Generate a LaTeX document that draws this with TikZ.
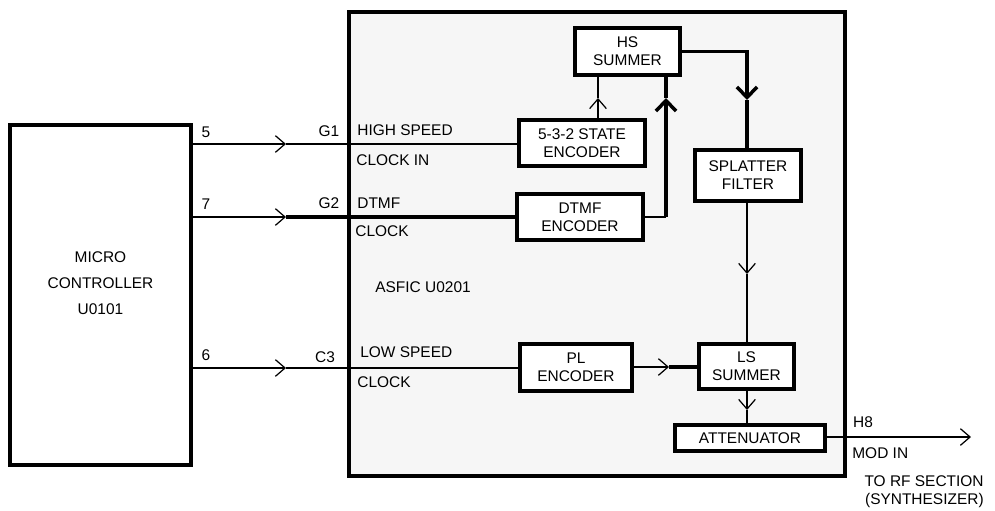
\documentclass[tikz,border=0pt]{standalone}
\usepackage{fontspec}
\setmainfont{Liberation Sans}
\usetikzlibrary{arrows.meta}
\definecolor{chipgray}{RGB}{246,246,246}
\tikzset{
  blk/.style={draw,line width=2.2pt,fill=white,align=center,inner sep=0pt},
  sig/.style={line width=0.7pt},
  bus/.style={line width=2pt,>={Straight Barb[length=6pt,width=11.5pt]}},
  lbl/.style={inner sep=0pt},
}

\begin{document}
\begin{tikzpicture}[x=0.02cm,y=-0.02cm,>={Straight Barb[length=5.5pt,width=9.5pt]},
                    font=\fontsize{8.8}{10.2}\selectfont]
  \useasboundingbox (0,0) rectangle (995,511);
  % --- micro controller and the ASFIC outline ---
  \node[blk,minimum width=3.62cm,minimum height=6.8cm] (micro) at (100.5,295) {};
  \node[align=center] (microtxt) at (100.5,283) {MICRO\\[4.5pt]CONTROLLER\\[4.5pt]U0101};
  \node[blk,fill=chipgray,minimum width=9.92cm,minimum height=9.28cm] (asfic) at (597,244) {};
  \node[lbl,anchor=west] (asficname) at (375,287) {ASFIC U0201};
  % --- blocks inside the ASFIC ---
  \node[blk,minimum width=2.1cm,minimum height=0.94cm] (hs) at (627.5,51.5) {HS\\SUMMER};
  \node[blk,minimum width=2.52cm,minimum height=0.92cm] (enc532) at (582,143) {5-3-2 STATE\\ENCODER};
  \node[blk,minimum width=2.52cm,minimum height=0.92cm] (dtmf) at (580,217) {DTMF\\ENCODER};
  \node[blk,minimum width=2.12cm,minimum height=1.02cm] (splat) at (748,175.5) {SPLATTER\\FILTER};
  \node[blk,minimum width=2.24cm,minimum height=0.94cm] (pl) at (576,367.5) {PL\\ENCODER};
  \node[blk,minimum width=1.9cm,minimum height=0.9cm] (ls) at (746.5,366.5) {LS\\SUMMER};
  \node[blk,minimum width=3.0cm,minimum height=0.52cm] (att) at (750,438) {ATTENUATOR};
  % --- arrow points ---
  \coordinate (g1) at (286,144);
  \coordinate (g2) at (286,217);
  \coordinate (c3) at (286,368);
  \coordinate (t532) at (598,98);
  \coordinate (tdtmf) at (666,98);
  \coordinate (tsplat) at (747,100);
  \coordinate (tls) at (747,274);
  \coordinate (tpl) at (669,367);
  \coordinate (tatt) at (747,410);
  \coordinate (modin) at (971,437);
  % --- clock lines from the micro controller ---
  \draw[sig,->] (micro.east |- g1) -- (g1);
  \draw[sig] (g1) -- (enc532.west |- g1);
  \draw[sig,->] (micro.east |- g2) -- (g2);
  \draw[bus] (g2) -- (dtmf.west);
  \draw[sig,->] (micro.east |- c3) -- (c3);
  \draw[sig] (c3) -- (pl.west |- c3);
  % --- signal path ---
  \draw[sig,->] (enc532.north -| t532) -- (t532);
  \draw[sig] (t532) -- (hs.south -| t532);
  \draw[sig] (dtmf.east) -- (dtmf.east -| tdtmf);
  \draw[bus,->] (dtmf.east -| tdtmf) -- (tdtmf);
  \draw[bus] (tdtmf) -- (hs.south -| tdtmf);
  \draw[bus,->] (hs.east) -| (tsplat);
  \draw[bus] (tsplat) -- (splat.north -| tsplat);
  \draw[sig,->] (splat.south -| tls) -- (tls);
  \draw[sig] (tls) -- (ls.north -| tls);
  \draw[sig,->] (pl.east |- tpl) -- (tpl);
  \draw[bus] (tpl) -- (ls.west |- tpl);
  \draw[sig,->] (ls.south -| tatt) -- (tatt);
  \draw[sig] (tatt) -- (att.north -| tatt);
  \draw[sig,->] (att.east |- modin) -- (modin);
  % --- pin labels ---
  \node[lbl] (pin5) at (206,132) {5};
  \node[lbl] (pin7) at (206,204) {7};
  \node[lbl] (pin6) at (206,355) {6};
  \node[lbl] (pinG1) at (329,131) {G1};
  \node[lbl] (pinG2) at (329,203) {G2};
  \node[lbl] (pinC3) at (325,357) {C3};
  \node[lbl] (pinH8) at (863,422) {H8};
  % --- signal names ---
  \node[lbl,anchor=west] (hispeed) at (357,130) {HIGH SPEED};
  \node[lbl,anchor=west] (clkin) at (356,160) {CLOCK IN};
  \node[lbl,anchor=west] (dtmfname) at (357,203) {DTMF};
  \node[lbl,anchor=west] (dtmfclk) at (355,231) {CLOCK};
  \node[lbl,anchor=west] (lospeed) at (360,352) {LOW SPEED};
  \node[lbl,anchor=west] (loclk) at (357,382) {CLOCK};
  \node[lbl,anchor=west] (modname) at (852,453) {MOD IN};
  \node[lbl,anchor=east,align=right] (rfsect) at (984,492) {TO RF SECTION\\(SYNTHESIZER)};
\end{tikzpicture}
\end{document}
